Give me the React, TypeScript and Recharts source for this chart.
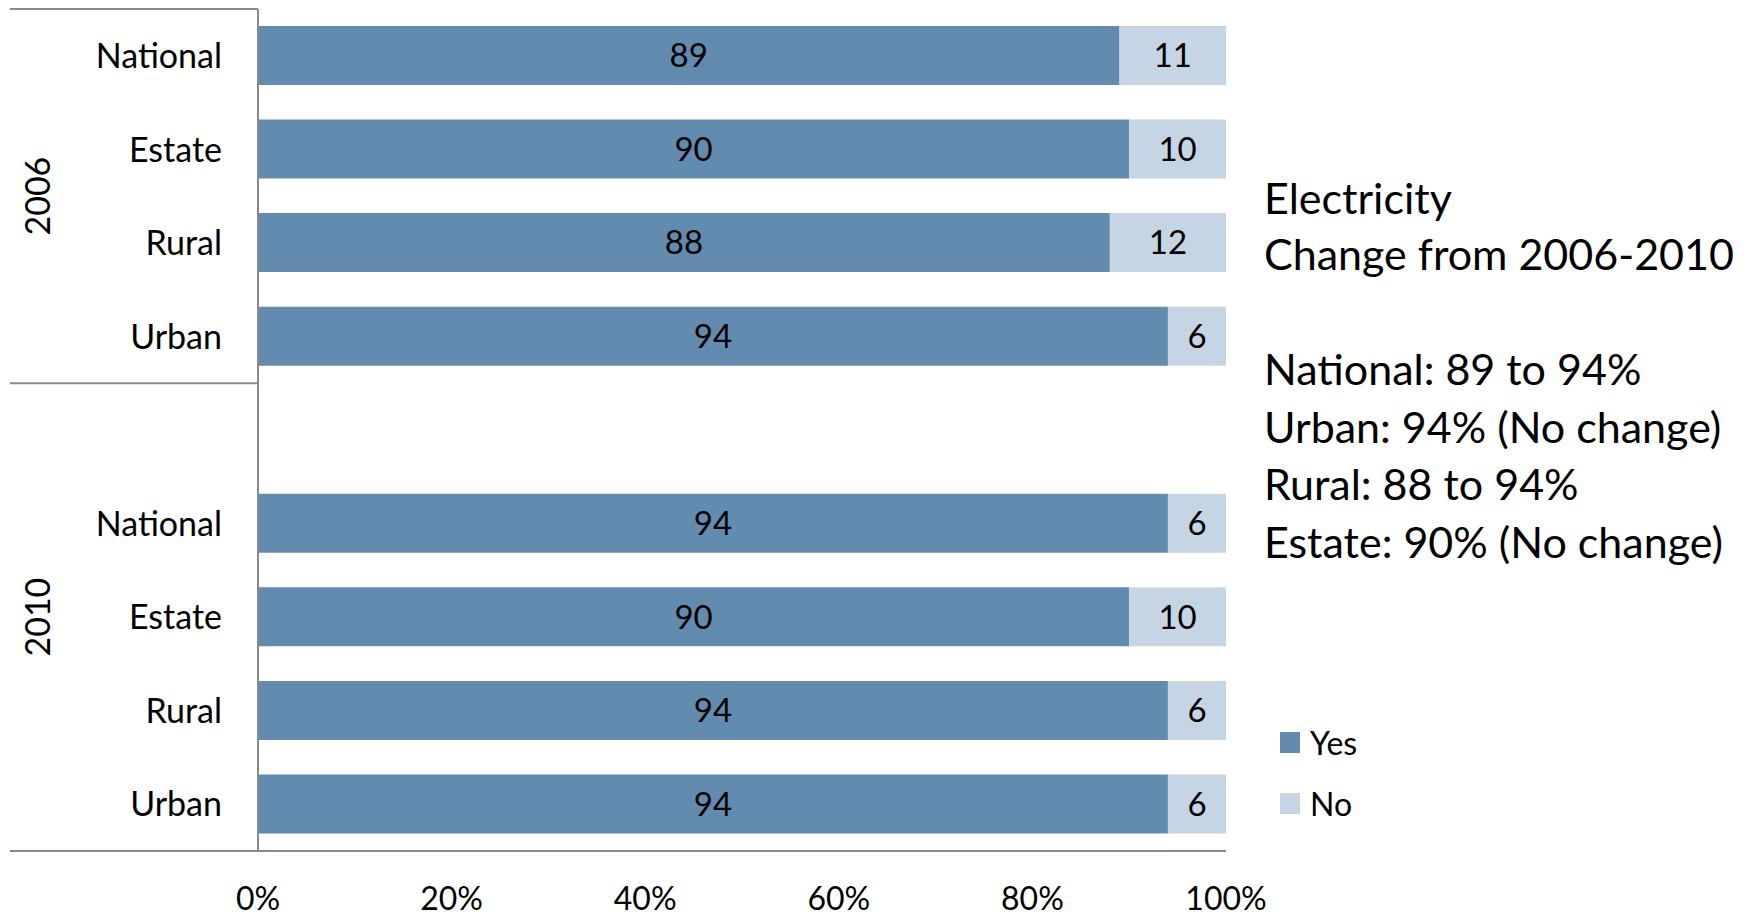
import React from 'react'
import { Bar, BarChart, LabelList, Legend, XAxis, YAxis } from 'recharts'

const categories = ['National', 'Estate', 'Rural', 'Urban', '', 'National', 'Estate', 'Rural', 'Urban']
const years = ['2006', '2006', '2006', '2006', '2010', '2010', '2010', '2010', '2010']
const yesValues = [89, 90, 88, 94, null, 94, 90, 94, 94]
const noValues = [11, 10, 12, 6, null, 6, 10, 6, 6]
const xTicks = [0, 20, 40, 60, 80, 100]
const legendOrder = ['Yes', 'No']
const notes = [
  'Electricity',
  'Change from 2006-2010',
  '',
  'National: 89 to 94%',
  'Urban: 94% (No change)',
  'Rural: 88 to 94%',
  'Estate: 90% (No change)',
]

const data = categories.map((c, i) => ({
  id: `${years[i]}-${i}`,
  category: c,
  year: years[i],
  yes: yesValues[i],
  no: noValues[i],
}))

const W = 1749
const H = 917
const TOP = 9
const XAXIS_H = 66
const YAXIS_W = 258
const band = (H - TOP - XAXIS_H) / data.length

const FONT = 'Lato, "Open Sans", sans-serif'
const LINE = '#8a8a8a'
const YES = '#638bb0'
const NO = '#c5d5e3'

const YTick = (props: any) => {
  const { x, y, index } = props
  const row = data[index]
  if (!row) return <g />
  const first = index === 0 || data[index - 1].year !== row.year
  const last = index === data.length - 1
  const groupSize = years.filter((yr) => yr === row.year).length
  const top = y - band / 2
  const mid = top + (groupSize * band) / 2
  return (
    <g>
      <text
        x={222}
        y={y}
        dy="0.36em"
        textAnchor="end"
        fontFamily={FONT}
        fontSize={34}
        fill="#000"
      >
        {row.category}
      </text>
      {first && <line x1={10} x2={x} y1={top} y2={top} stroke={LINE} strokeWidth={2} />}
      {last && <line x1={10} x2={x} y1={top + band} y2={top + band} stroke={LINE} strokeWidth={2} />}
      {first && (
        <text
          x={37}
          y={mid}
          transform={`rotate(-90 37 ${mid})`}
          textAnchor="middle"
          dominantBaseline="central"
          fontFamily={FONT}
          fontSize={34}
          fill="#000"
        >
          {row.year}
        </text>
      )}
    </g>
  )
}

const XTick = (props: any) => {
  const { x, y, payload } = props
  return (
    <text x={x} y={y + 59} textAnchor="middle" fontFamily={FONT} fontSize={32} fill="#000">
      {payload.value}%
    </text>
  )
}

const renderLegend = (props: any) => {
  const items = [...(props.payload || [])].sort(
    (a: any, b: any) => legendOrder.indexOf(a.value) - legendOrder.indexOf(b.value)
  )
  return (
    <div style={{ fontFamily: FONT, fontSize: 32 }}>
      {items.map((p: any) => (
        <div key={p.value} style={{ display: 'flex', alignItems: 'center', height: 61 }}>
          <div style={{ width: 20, height: 21, background: p.color, marginRight: 10 }} />
          <span>{p.value}</span>
        </div>
      ))}
    </div>
  )
}

const labelFmt = (v: any) => (v == null ? '' : v)

const App = () => (
  <div style={{ position: 'absolute', left: 0, top: 0, width: W, height: H, background: '#fff' }}>
    <BarChart
      layout="vertical"
      width={W}
      height={H}
      data={data}
      margin={{ top: TOP, right: W - 1226, bottom: 0, left: 0 }}
      barSize={59}
    >
      <XAxis
        type="number"
        domain={[0, 100]}
        ticks={xTicks}
        height={XAXIS_H}
        axisLine={{ stroke: LINE, strokeWidth: 2 }}
        tickLine={false}
        tickSize={0}
        tickMargin={0}
        interval={0}
        tick={<XTick />}
      />
      <YAxis
        type="category"
        dataKey="id"
        width={YAXIS_W}
        axisLine={{ stroke: LINE, strokeWidth: 2 }}
        tickLine={false}
        tickSize={0}
        tickMargin={0}
        interval={0}
        tick={(p: any) => <YTick {...p} />}
      />
      <Legend
        layout="vertical"
        align="center"
        verticalAlign="middle"
        content={renderLegend}
        wrapperStyle={{ left: 1280, top: 712, width: 200, height: 130 }}
      />
      <Bar dataKey="yes" name="Yes" stackId="s" fill={YES} isAnimationActive={false}>
        <LabelList
          dataKey="yes"
          position="center"
          formatter={labelFmt}
          fill="#000"
          fontFamily={FONT}
          fontSize={33}
        />
      </Bar>
      <Bar dataKey="no" name="No" stackId="s" fill={NO} isAnimationActive={false}>
        <LabelList
          dataKey="no"
          position="center"
          formatter={labelFmt}
          fill="#000"
          fontFamily={FONT}
          fontSize={33}
        />
      </Bar>
    </BarChart>
    <svg
      width={W}
      height={H}
      style={{ position: 'absolute', left: 0, top: 0, pointerEvents: 'none' }}
    >
      {notes.map((t, i) => (
        <text
          key={i}
          x={1264}
          y={i < 2 ? 214 + i * 56 : 385 + (i - 3) * 57.7}
          fontFamily={FONT}
          fontSize={43}
          fill="#000"
        >
          {t}
        </text>
      ))}
    </svg>
  </div>
)

export default App
